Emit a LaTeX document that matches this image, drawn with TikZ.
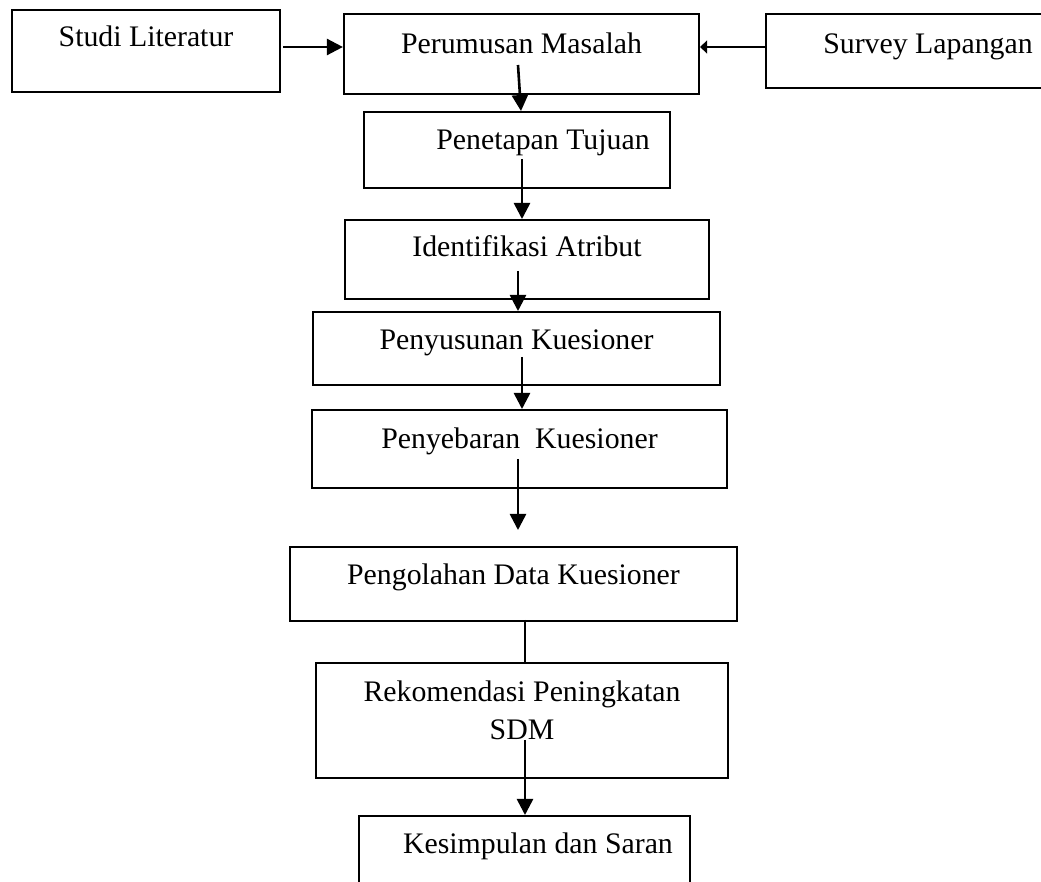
\documentclass[tikz,border=0pt]{standalone}
\usepackage{fontspec}
\setmainfont{Liberation Serif}
\usetikzlibrary{arrows.meta}
\begin{document}
\begin{tikzpicture}[x=0.5pt,y=-0.5pt,
  box/.style={draw, line width=1.1pt, inner sep=0pt, anchor=north, font=\fontsize{14.9}{19}\selectfont},
  arr/.style={line width=1.3pt, -{Triangle[length=8pt,width=8pt]}}]
\useasboundingbox (0,0) rectangle (1041,882);
\node[box, minimum width=134pt, text height=18pt, text depth=23pt] (studi) at (146,9) {Studi Literatur};
\node[box, minimum width=177.5pt, text height=19.5pt, text depth=20.5pt] (perumusan) at (521.5,13) {Perumusan Masalah};
\node[box, minimum width=162pt, text height=19.5pt, text depth=17.5pt] (survey) at (928,13) {Survey Lapangan};
\node[box, minimum width=153pt, text height=18.5pt, text depth=19.5pt] (penetapan) at (517,111) {\hspace*{26pt}Penetapan Tujuan};
\node[box, minimum width=182pt, text height=18pt, text depth=21.5pt] (identifikasi) at (527,219) {Identifikasi Atribut};
\node[box, minimum width=203.5pt, text height=18.5pt, text depth=18pt] (penyusunan) at (516.5,311) {Penyusunan Kuesioner};
\node[box, minimum width=207.5pt, text height=19pt, text depth=20pt] (penyebaran) at (519.5,409) {Penyebaran~ Kuesioner};
\node[box, minimum width=223.5pt, text height=18.5pt, text depth=18.5pt] (pengolahan) at (513.5,546) {Pengolahan Data Kuesioner};
\node[box, minimum width=206pt, text height=38pt, text depth=19.5pt, align=center] (rekomendasi) at (522,662) {Rekomendasi Peningkatan\\SDM};
\node[box, minimum width=165.5pt, text height=18.5pt, text depth=30pt] (kesimpulan) at (524.5,815) {\hspace*{13.5pt}Kesimpulan dan Saran};
\coordinate (aL) at (283,47);
\coordinate (aR) at (766,47);
\draw[arr] (aL) -- (aL -| perumusan.west);
\draw[line width=1.3pt, -{Triangle[length=3.5pt,width=6.5pt]}] (aR -| survey.west) -- (aR -| perumusan.east);
\coordinate (s1) at (518,65);
\coordinate (s2) at (522,159);
\coordinate (s3) at (518,271);
\coordinate (s4) at (522,357);
\coordinate (s5) at (518,459);
\coordinate (e5) at (518,530);
\coordinate (s6) at (525,620);
\coordinate (s7) at (525,740);
\draw[arr] (s1) -- ([xshift=2pt]penetapan.north);
\draw[arr] (s2) -- (s2 |- identifikasi.north);
\draw[arr] (s3) -- (s3 |- penyusunan.north);
\draw[arr] (s4) -- (s4 |- penyebaran.north);
\draw[arr] (s5) -- (e5);
\draw[line width=1.3pt] (s6) -- (s6 |- rekomendasi.north);
\draw[arr] (s7) -- (s7 |- kesimpulan.north);
\end{tikzpicture}
\end{document}
